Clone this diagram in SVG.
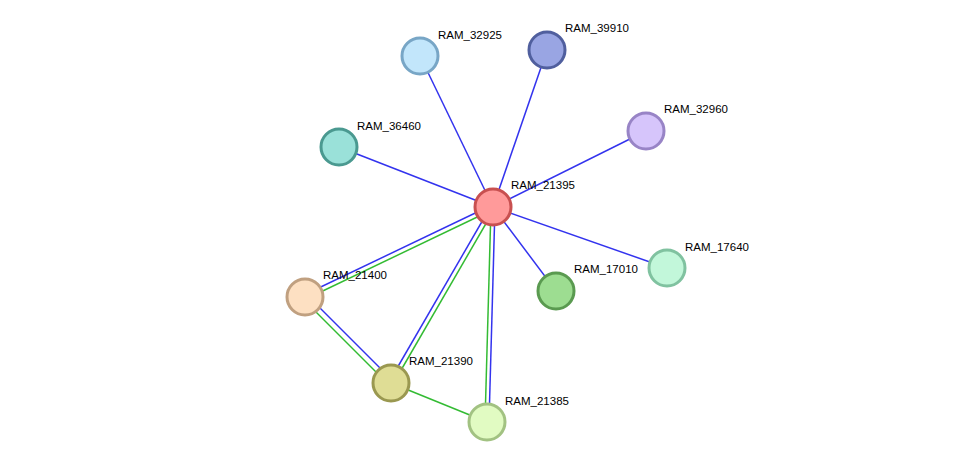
<svg xmlns="http://www.w3.org/2000/svg" width="976" height="468" viewBox="0 0 976 468">
<style>
.n{stroke-width:3}
.t{font-family:"Liberation Sans",Arial,sans-serif;font-size:11.5px;fill:#000}
.b{stroke:#3333ee;stroke-width:1.5;fill:none}
.g{stroke:#33bb33;stroke-width:1.5;fill:none}
</style>
<rect width="976" height="468" fill="#fff"/>
<g id="edges">
<line class="b" x1="493" y1="207" x2="420" y2="56"/>
<line class="b" x1="493" y1="207" x2="547" y2="50"/>
<line class="b" x1="493" y1="207" x2="646" y2="131"/>
<line class="b" x1="493" y1="207" x2="339" y2="147"/>
<line class="b" x1="493" y1="207" x2="667" y2="268"/>
<line class="b" x1="493" y1="207" x2="556" y2="291"/>
<line class="b" x1="492" y1="205" x2="304" y2="295"/>
<line class="g" x1="494" y1="209" x2="306" y2="299"/>
<line class="b" x1="491" y1="206" x2="389" y2="382"/>
<line class="g" x1="495" y1="208" x2="393" y2="384"/>
<line class="b" x1="495" y1="207" x2="489" y2="422"/>
<line class="g" x1="491" y1="207" x2="485" y2="422"/>
<line class="b" x1="307" y1="295" x2="393" y2="381"/>
<line class="g" x1="303" y1="299" x2="389" y2="385"/>
<line class="g" x1="391" y1="383" x2="487" y2="422"/>
</g>
<g id="RAM_21395"><circle class="n" cx="493" cy="207" r="18" fill="#ff9a9a" stroke="#c85050"/><text class="t" x="511" y="189">RAM_21395</text></g>
<g id="RAM_32925"><circle class="n" cx="420" cy="56" r="18" fill="#c2e6fb" stroke="#78a6c6"/><text class="t" x="438" y="39">RAM_32925</text></g>
<g id="RAM_39910"><circle class="n" cx="547" cy="50" r="18" fill="#99a5e3" stroke="#505f9e"/><text class="t" x="565" y="32">RAM_39910</text></g>
<g id="RAM_32960"><circle class="n" cx="646" cy="131" r="18" fill="#d6c5fb" stroke="#9884c6"/><text class="t" x="664" y="113">RAM_32960</text></g>
<g id="RAM_36460"><circle class="n" cx="339" cy="147" r="18" fill="#9ae1d9" stroke="#4a9990"/><text class="t" x="357" y="130">RAM_36460</text></g>
<g id="RAM_17640"><circle class="n" cx="667" cy="268" r="18" fill="#c2f7da" stroke="#80c2a0"/><text class="t" x="685" y="251">RAM_17640</text></g>
<g id="RAM_17010"><circle class="n" cx="556" cy="291" r="18" fill="#9ddd91" stroke="#5a9a50"/><text class="t" x="574" y="273">RAM_17010</text></g>
<g id="RAM_21400"><circle class="n" cx="305" cy="297" r="18" fill="#fde0c2" stroke="#c0a080"/><text class="t" x="323" y="279">RAM_21400</text></g>
<g id="RAM_21390"><circle class="n" cx="391" cy="383" r="18" fill="#dfdd95" stroke="#9a9850"/><text class="t" x="409" y="365">RAM_21390</text></g>
<g id="RAM_21385"><circle class="n" cx="487" cy="422" r="18" fill="#e1fbc2" stroke="#a2c282"/><text class="t" x="505" y="405">RAM_21385</text></g>
</svg>
